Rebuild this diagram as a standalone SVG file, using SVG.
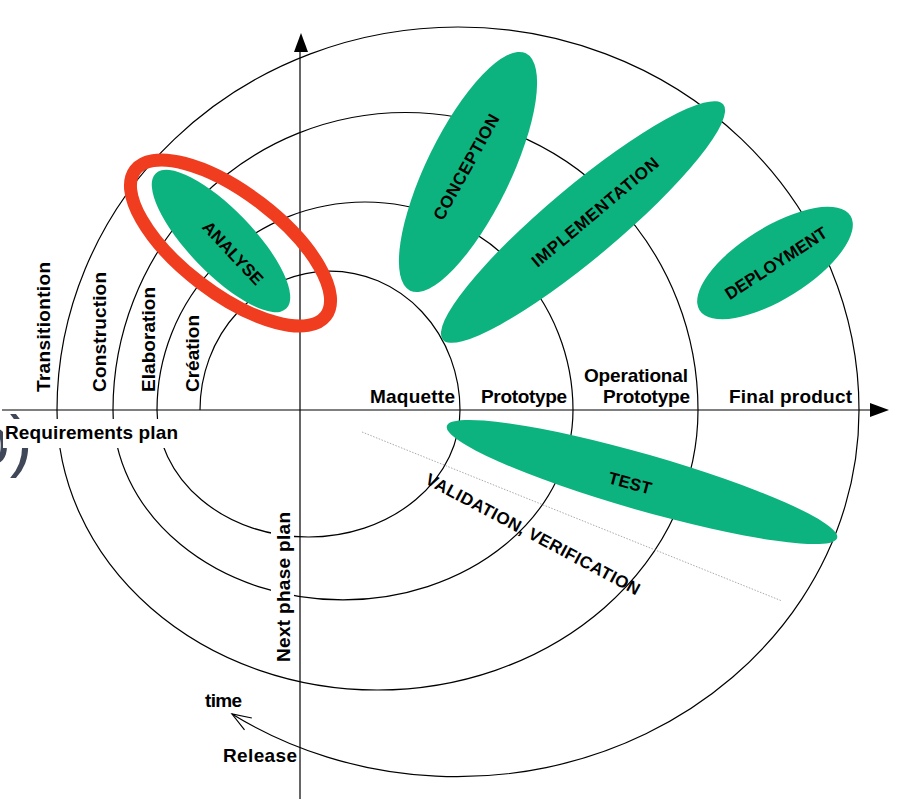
<svg xmlns="http://www.w3.org/2000/svg" width="897" height="799" viewBox="0 0 897 799">
<style>
.lbl{font-family:"Liberation Sans",Arial,sans-serif;font-weight:bold;font-size:19px;fill:#000}
.el{font-family:"Liberation Sans",Arial,sans-serif;font-weight:bold;font-size:17px;fill:#000;text-anchor:middle}
.line{fill:none;stroke:#000;stroke-width:1.2}
.blob{fill:#0cb37e}
</style>
<defs>
<marker id="openV" markerUnits="userSpaceOnUse" markerWidth="40" markerHeight="40" refX="0" refY="0" orient="auto" overflow="visible">
<path d="M -19 -7 L 0 0 L -19 7" fill="none" stroke="#000" stroke-width="1.2"/>
</marker>
</defs>
<rect width="897" height="799" fill="#fff"/>
<text x="-28" y="464" font-family="Liberation Sans,Arial,sans-serif" font-size="68" fill="#3f4758">o)</text>
<g id="connectors">
<path class="line" d="M 200 410 A 130 139 0 0 1 460 410 A 151.5 127 0 0 1 157 410 A 208 208 0 0 1 573 410 A 230 190 0 0 1 113 410 A 292 297 0 0 1 698 410 A 320.5 280 0 0 1 57 410 A 401 383 0 0 1 859 410 A 402 366 0 0 1 232 714" marker-end="url(#openV)"/>
<line class="line" x1="2" y1="410" x2="872" y2="410"/>
<polygon points="870,403 889,410 870,417" fill="#000"/>
<line class="line" x1="300" y1="799" x2="300" y2="50"/>
<polygon points="294,52 301,33 308,52" fill="#000"/>
<line x1="362" y1="432" x2="782" y2="601" stroke="#aaa" stroke-width="1" stroke-dasharray="1.5,1.5"/>
</g>
<g id="analyse">
<ellipse class="blob" cx="221" cy="241" rx="94" ry="32" transform="rotate(46 221 241)"/>
<text class="el" x="0" y="6" textLength="80" transform="translate(233 253) rotate(47)">ANALYSE</text>
</g>
<g id="analyse-highlight">
<ellipse cx="230.5" cy="243" rx="120" ry="50" fill="none" stroke="#f03c1f" stroke-width="13" transform="rotate(37.4 230.5 243)"/>
</g>
<g id="conception">
<ellipse class="blob" cx="468" cy="172" rx="132" ry="42" transform="rotate(-64 468 172)"/>
<text class="el" x="0" y="6" textLength="118" transform="translate(466 167) rotate(-61)">CONCEPTION</text>
</g>
<g id="implementation">
<ellipse class="blob" cx="583" cy="222" rx="183" ry="36" transform="rotate(-40 583 222)"/>
<text class="el" x="0" y="6" textLength="160" transform="translate(595 212) rotate(-40)">IMPLEMENTATION</text>
</g>
<g id="deployment">
<ellipse class="blob" cx="775" cy="263" rx="89" ry="36" transform="rotate(-32 775 263)"/>
<text class="el" x="0" y="6" textLength="118" transform="translate(776 263) rotate(-33)">DEPLOYMENT</text>
</g>
<g id="test">
<ellipse class="blob" cx="642" cy="482" rx="203" ry="28" transform="rotate(16 642 482)"/>
<text class="el" x="0" y="6" textLength="44" transform="translate(630 483) rotate(15)">TEST</text>
</g>
<g id="validation">
<text class="el" x="0" y="6" textLength="240" transform="translate(533 534) rotate(28)">VALIDATION, VERIFICATION</text>
</g>
<g id="phase-labels">
<text class="lbl" x="0" y="0" textLength="130" transform="translate(50 392) rotate(-90)">Transitiontion</text>
<text class="lbl" x="0" y="0" textLength="120" transform="translate(106 392) rotate(-90)">Construction</text>
<text class="lbl" x="0" y="0" textLength="105" transform="translate(155 392) rotate(-90)">Elaboration</text>
<text class="lbl" x="0" y="0" textLength="77" transform="translate(199 392) rotate(-90)">Création</text>
</g>
<g id="product-labels">
<text class="lbl" x="370" y="403" textLength="85">Maquette</text>
<text class="lbl" x="481" y="403" textLength="86">Prototype</text>
<text class="lbl" x="584" y="382" textLength="104">Operational</text>
<text class="lbl" x="603" y="403" textLength="87">Prototype</text>
<text class="lbl" x="729" y="403" textLength="123">Final product</text>
</g>
<g id="requirements-plan">
<rect x="3" y="419" width="180" height="29" fill="#fff"/>
<text class="lbl" x="5" y="439" textLength="173">Requirements plan</text>
</g>
<g id="next-phase-plan">
<rect x="271" y="508" width="23" height="158" fill="#fff"/>
<text class="lbl" x="0" y="0" textLength="150" transform="translate(290 662) rotate(-90)">Next phase plan</text>
</g>
<g id="time">
<text class="lbl" x="205" y="707" textLength="37">time</text>
<text class="lbl" x="223" y="762" textLength="74">Release</text>
</g>
</svg>
